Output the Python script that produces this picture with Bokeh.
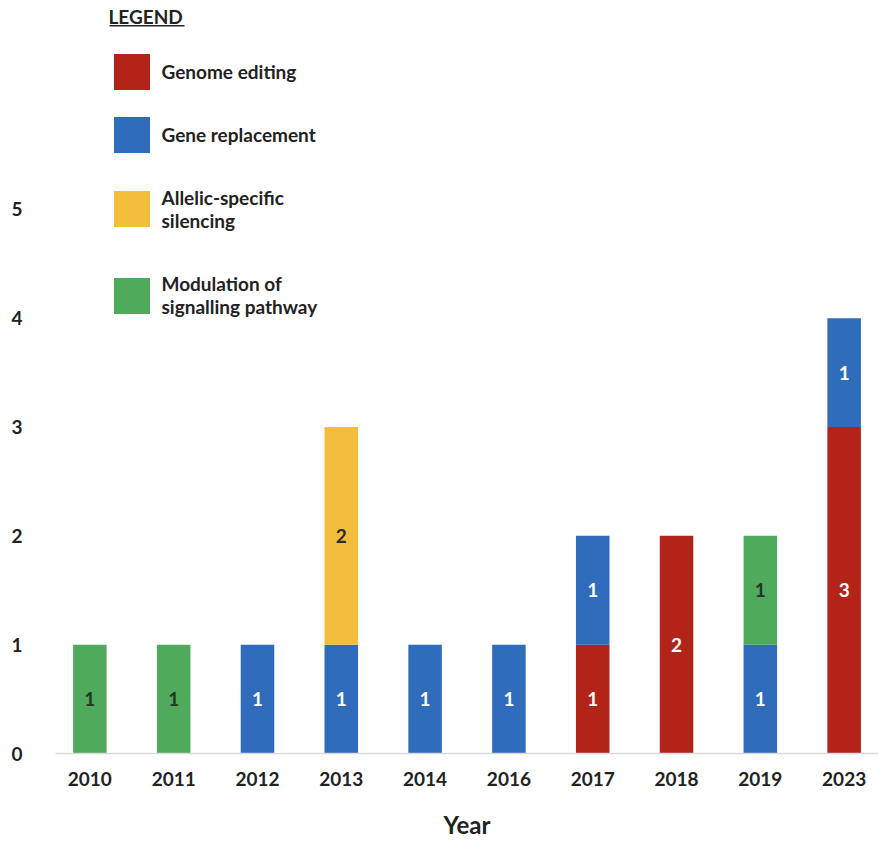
from bokeh.plotting import figure
from bokeh.models import (ColumnDataSource, FactorRange, Range1d, FixedTicker,
                          Legend, LegendItem, BoxAnnotation)
from bokeh.core.properties import value
from bokeh.embed import file_html
from bokeh.resources import INLINE

# ---- data ----
years = ["2010", "2011", "2012", "2013", "2014", "2016", "2017", "2018", "2019", "2023"]
series_names = ["Genome editing", "Gene replacement", "Allelic-specific\nsilencing",
                "Modulation of\nsignalling pathway"]
genome_editing = [0, 0, 0, 0, 0, 0, 1, 2, 0, 3]
gene_replacement = [0, 0, 1, 1, 1, 1, 1, 0, 1, 1]
allelic_silencing = [0, 0, 0, 2, 0, 0, 0, 0, 0, 0]
modulation = [1, 1, 0, 0, 0, 0, 0, 0, 1, 0]
y_ticks = [0, 1, 2, 3, 4, 5]

colors = ["#B22418", "#2F6CBC", "#F2BE3C", "#4FAA5B"]
label_colors = ["#FFFFFF", "#FFFFFF", "#2B2B2B", "#263326"]
keys = ["ge", "gr", "as", "mo"]
series = [genome_editing, gene_replacement, allelic_silencing, modulation]

FONT = "Lato"

src = ColumnDataSource(dict(year=years, ge=genome_editing, gr=gene_replacement,
                            **{"as": allelic_silencing}, mo=modulation))

p = figure(width=878, height=843, output_backend="svg", toolbar_location=None,
           x_range=FactorRange(*years, range_padding=-0.09, range_padding_units="absolute"),
           y_range=Range1d(0, 6.92),
           min_border_left=55, min_border_right=0, min_border_top=0, min_border_bottom=90)
p.outline_line_color = None
p.background_fill_color = "white"
p.border_fill_color = "white"

renderers = p.vbar_stack(keys, x="year", width=0.4, source=src, color=colors,
                         line_color=None)

# value labels in the middle of each segment
lx, ly, lt, lc = [], [], [], []
bottoms = [0] * len(years)
for vals, col in zip(series, label_colors):
    for i, v in enumerate(vals):
        if v > 0:
            lx.append(years[i]); ly.append(bottoms[i] + v / 2)
            lt.append(str(v)); lc.append(col)
        bottoms[i] += v
lsrc = ColumnDataSource(dict(x=lx, y=ly, t=lt, c=lc))
p.text(x="x", y="y", text="t", source=lsrc, text_color="c", text_align="center",
       text_baseline="middle", text_font=value(FONT), text_font_style="bold",
       text_font_size="19px")

# axes
p.xgrid.grid_line_color = None
p.ygrid.grid_line_color = None

xa = p.xaxis[0]
xa.axis_line_color = "#D9D9D9"
xa.axis_line_width = 1.5
xa.major_tick_line_color = None
xa.minor_tick_line_color = None
xa.major_label_text_font = FONT
xa.major_label_text_font_style = "bold"
xa.major_label_text_font_size = "19px"
xa.major_label_text_color = "#222222"
xa.major_label_standoff = 12
xa.axis_label = "Year"
xa.axis_label_text_font = FONT
xa.axis_label_text_font_style = "bold"
xa.axis_label_text_font_size = "24px"
xa.axis_label_text_color = "#222222"
xa.axis_label_standoff = 21

ya = p.yaxis[0]
ya.ticker = FixedTicker(ticks=y_ticks)
ya.axis_line_color = None
ya.major_tick_line_color = None
ya.minor_tick_line_color = None
ya.major_label_text_font = FONT
ya.major_label_text_font_style = "bold"
ya.major_label_text_font_size = "19px"
ya.major_label_text_color = "#222222"
ya.major_label_standoff = 27

# legend (split in three blocks to reproduce the uneven vertical spacing)
legend_style = dict(label_text_font=FONT, label_text_font_style="bold",
                    label_text_font_size="19px", label_text_color="#222222",
                    label_standoff=8, glyph_width=45, glyph_height=45,
                    spacing=18, padding=0, margin=0,
                    border_line_color=None, background_fill_alpha=0)
items = [LegendItem(label=n, renderers=[r]) for n, r in zip(series_names, renderers)]
legend_a = Legend(items=items[:2], location=(53.5, 596.5), title="LEGEND",
                  title_text_font=FONT, title_text_font_style="bold",
                  title_text_font_size="19px", title_text_color="#222222",
                  title_standoff=21, **legend_style)
legend_b = Legend(items=items[2:3], location=(53.5, 521.5), **legend_style)
legend_c = Legend(items=items[3:4], location=(53.5, 435), **legend_style)
for lg in (legend_a, legend_b, legend_c):
    p.add_layout(lg, "center")

underline = BoxAnnotation(left=109, right=184, top=24.5, bottom=26,
                          left_units="canvas", right_units="canvas",
                          top_units="canvas", bottom_units="canvas",
                          fill_color="#222222", fill_alpha=1, line_color=None)
p.add_layout(underline)

open("out.html", "w").write(file_html(p, INLINE))
